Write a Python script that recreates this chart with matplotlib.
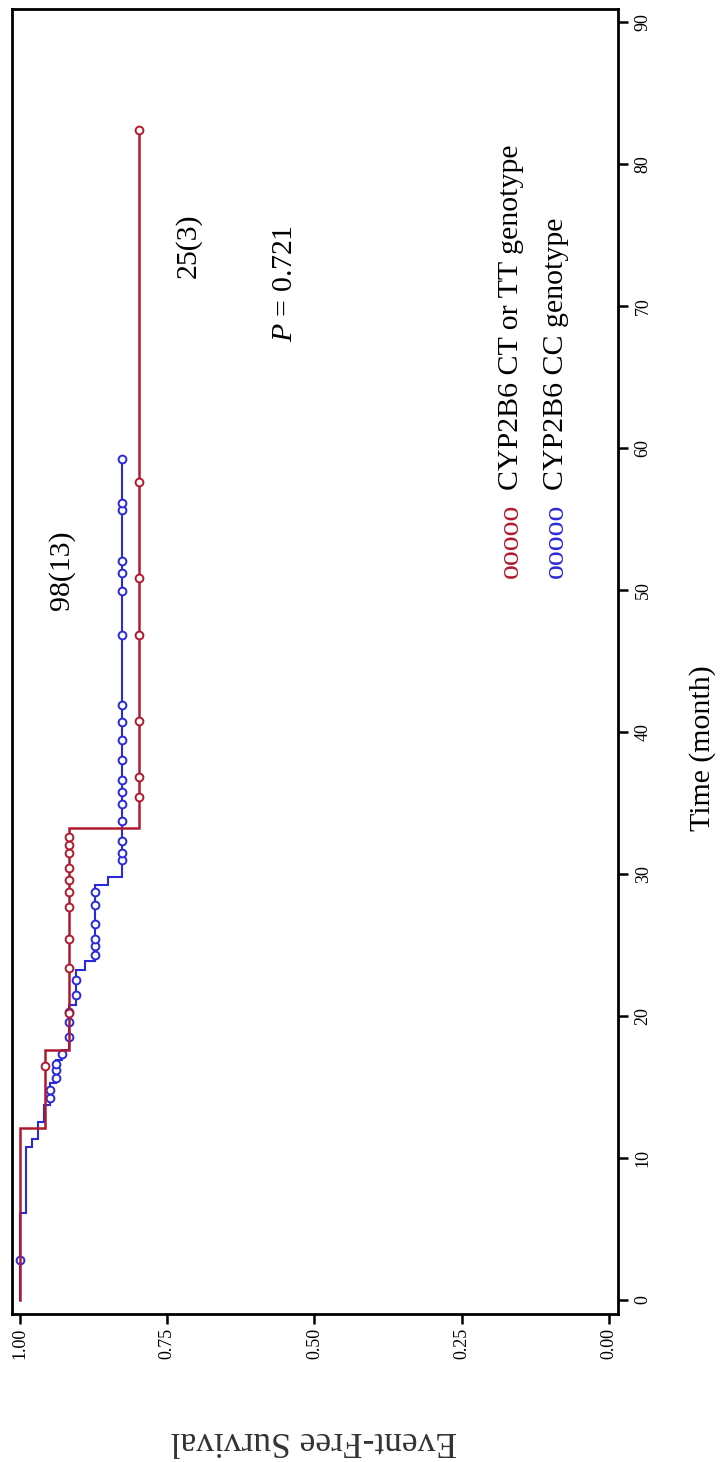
import numpy as np
import matplotlib
matplotlib.use("Agg")
import matplotlib.pyplot as plt

plt.rcParams["font.family"] = ["Liberation Serif", "DejaVu Serif"]
plt.rcParams["mathtext.fontset"] = "custom"
plt.rcParams["mathtext.rm"] = "Liberation Serif"
plt.rcParams["mathtext.it"] = "Liberation Serif:italic"

# ---- axis ticks ----
time_ticks = [0, 10, 20, 30, 40, 50, 60, 70, 80, 90]
surv_ticks = [1.00, 0.75, 0.50, 0.25, 0.00]
surv_tick_labels = ["1.00", "0.75", "0.50", "0.25", "0.00"]

# ---- CYP2B6 CT or TT genotype (n=25, 3 events) ----
red_event_t = [12.1, 17.6, 33.2]
red_event_s = [0.957, 0.917, 0.798]
red_censor_t = [16.5, 20.2, 23.4, 25.4, 27.7, 28.7, 29.6, 30.4, 31.5, 32.0,
                32.6, 35.4, 36.8, 40.8, 46.8, 50.8, 57.6, 82.4]
red_end_t = 82.4

# ---- CYP2B6 CC genotype (n=98, 13 events) ----
blue_event_t = [6.1, 10.8, 11.3, 12.5, 13.7, 15.3, 16.9, 17.6, 20.8, 23.2,
                23.9, 29.2, 29.8]
blue_event_s = [0.990, 0.980, 0.969, 0.959, 0.949, 0.939, 0.929, 0.917,
                0.905, 0.890, 0.873, 0.851, 0.827]
blue_censor_t = [2.8, 14.2, 14.8, 15.6, 16.2, 16.6, 17.3, 18.5, 19.6, 20.3,
                 21.5, 22.5, 24.3, 24.9, 25.4, 26.5, 27.8, 28.7, 31.0, 31.5,
                 32.3, 33.7, 34.9, 35.8, 36.6, 38.0, 39.4, 40.7, 41.9, 46.8,
                 49.9, 51.2, 52.0, 55.6, 56.1, 59.2]
blue_end_t = 59.2

RED = "#B01A2E"
BLUE = "#2A2AD8"

W, H = 721, 1462
fig = plt.figure(figsize=(W / 100, H / 100), dpi=100)


def fx(px):
    return px / W


def fy(py):
    return 1 - py / H


ax = fig.add_axes([fx(12), fy(1314), (618 - 12) / W, (1314 - 9) / H])


def km_path(ev_t, ev_s, t_end):
    ts = [0.0] + list(ev_t) + [t_end]
    ss = [1.0] + list(ev_s)
    pt, ps = [], []
    for i, s in enumerate(ss):
        pt += [ts[i], ts[i + 1]]
        ps += [s, s]
    return np.array(ps), np.array(pt)


def surv_at(times, ev_t, ev_s):
    ev_t = np.asarray(ev_t)
    levels = np.concatenate([[1.0], ev_s])
    idx = np.searchsorted(ev_t, np.asarray(times), side="right")
    return levels[idx]


for ev_t, ev_s, cen_t, t_end, col, lw, z in [
    (blue_event_t, blue_event_s, blue_censor_t, blue_end_t, BLUE, 1.5, 2),
    (red_event_t, red_event_s, red_censor_t, red_end_t, RED, 1.8, 3),
]:
    ps, pt = km_path(ev_t, ev_s, t_end)
    ax.plot(ps, pt, color=col, lw=lw, zorder=z, solid_joinstyle="miter")
    ax.plot(surv_at(cen_t, ev_t, ev_s), cen_t, linestyle="none", marker="o",
            ms=5.6, mew=1.4, mec=col, mfc="white", zorder=z + 0.5)

ax.set_xlim(1.0136, -0.0153)
ax.set_ylim(-0.99, 90.9)

ax.set_xticks(surv_ticks)
ax.set_xticklabels(surv_tick_labels, rotation=90, fontsize=13)
ax.set_yticks(time_ticks)
ax.yaxis.tick_right()
ax.set_yticklabels([str(t) for t in time_ticks], rotation=90, fontsize=13,
                   va="center")
ax.tick_params(axis="both", direction="out", length=7, width=1.8,
               color="black")
ax.tick_params(axis="x", pad=3)
ax.tick_params(axis="y", pad=5)
for sp in ax.spines.values():
    sp.set_linewidth(2.0)
    sp.set_color("black")

FS = 21.5
# annotations inside the plot
fig.text(fx(62), fy(570), "98(13)", rotation=90, ha="center", va="center",
         fontsize=FS)
fig.text(fx(188), fy(246), "25(3)", rotation=90, ha="center", va="center",
         fontsize=FS)
fig.text(fx(285), fy(283), "$P$ = 0.721", rotation=90, ha="center",
         va="center", fontsize=FS)

# legend entries
for base_x, col, label in [(518, RED, "CYP2B6 CT or TT genotype"),
                           (563, BLUE, "CYP2B6 CC genotype")]:
    fig.text(fx(base_x), fy(578), "ooooo", color=col, rotation=90,
             rotation_mode="anchor", ha="left", va="baseline", fontsize=FS)
    fig.text(fx(base_x), fy(490), label, color="black", rotation=90,
             rotation_mode="anchor", ha="left", va="baseline", fontsize=FS)

# axis titles
fig.text(fx(703), fy(748), "Time (month)", rotation=90, ha="center",
         va="center", fontsize=FS)
fig.text(fx(314), fy(1440), "Event-Free Survival", rotation=180, ha="center",
         va="center", fontsize=25.5, color="#333333")

fig.savefig("out.png", dpi=100)
